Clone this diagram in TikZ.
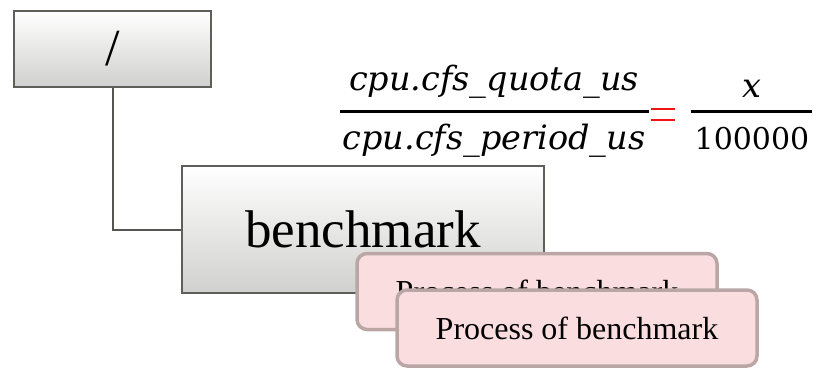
\documentclass[tikz,border=0pt]{standalone}
\usepackage{fontspec}
\setmainfont{Liberation Serif}
\newfontfamily\eqfont{DejaVu Serif}
\definecolor{boxline}{RGB}{95,95,90}
\definecolor{boxlow}{RGB}{208,208,206}
\definecolor{procfill}{RGB}{250,221,223}
\definecolor{procline}{RGB}{187,166,166}
\definecolor{eqred}{RGB}{240,20,20}
\tikzset{
  grouping/.style={draw=boxline, line width=1.6pt, top color=white, bottom color=boxlow,
    inner sep=0pt, align=center},
  procbox/.style={draw=procline, line width=3.5pt, fill=procfill, rounded corners=10pt,
    minimum width=360pt, minimum height=76pt, inner sep=0pt,
    font=\fontsize{32}{35}\selectfont},
  link/.style={draw=boxline!90!black, line width=2pt},
  eqtext/.style={inner sep=0pt, anchor=base, font=\eqfont\fontsize{33.5}{36}\selectfont\itshape},
  eqdigits/.style={inner sep=0pt, anchor=base, font=\eqfont\fontsize{30}{34}\selectfont},
  fracbar/.style={line width=3pt, black}
}
\begin{document}
\begin{tikzpicture}[x=1pt, y=-1pt]
  \useasboundingbox (0,0) rectangle (817,368);

  % hierarchy: root group and its child group
  \node[grouping, minimum width=197pt, minimum height=76pt,
        font=\fontsize{52}{56}\selectfont] (root) at (112.5,49) {/};
  \draw[link] (root.south) |- (182,229.5) coordinate (benchin);
  \node[grouping, minimum width=362pt, minimum height=127pt,
        font=\fontsize{53}{56}\selectfont] (bench) at (363,229.5) {benchmark};

  % processes placed in the group
  \node[procbox] (proc1) at (537,291.5) {Process of benchmark};
  \node[procbox] (proc2) at (577,328) {Process of benchmark};

  % quota formula
  \node[eqtext] (quota) at (494,90) {cpu.cfs\_quota\_us};
  \node[eqtext] (period) at (494,149) {cpu.cfs\_period\_us};
  \draw[fracbar] (340,111) -- (649,111);
  \draw[eqred, line width=2pt] (651,109) -- (675,109);
  \draw[eqred, line width=2pt] (651,120) -- (675,120);
  \node[eqtext] (xval) at (752,97) {x};
  \node[eqdigits] (period100) at (752,149) {100000};
  \draw[fracbar] (691,111) -- (812,111);
\end{tikzpicture}
\end{document}
